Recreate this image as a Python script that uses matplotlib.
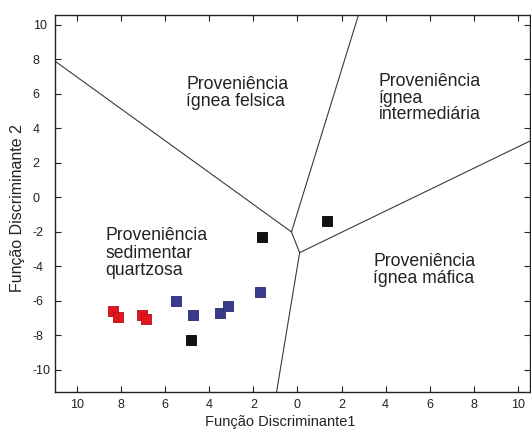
import matplotlib
matplotlib.use("Agg")
import matplotlib.pyplot as plt
from matplotlib.ticker import FuncFormatter

plt.rcParams['font.family'] = ['Liberation Sans', 'DejaVu Sans']

# boundary lines of the discriminant diagram (x, y)
line_felsic_sed = ([-11.0, -0.27], [7.9, -2.0])
line_felsic_int = ([-0.27, 2.77], [-2.0, 10.58])
line_center = ([-0.27, 0.1], [-2.0, -3.2])
line_int_maf = ([0.1, 10.6], [-3.2, 3.3])
line_sed_maf = ([0.1, -0.95], [-3.2, -11.3])

# samples
red_x = [-8.36, -8.14, -7.05, -6.86]
red_y = [-6.6, -6.94, -6.82, -7.05]
blue_x = [-5.5, -4.73, -3.5, -3.14, -1.68]
blue_y = [-6.0, -6.82, -6.7, -6.3, -5.5]
black_x = [-4.82, -1.6, 1.36]
black_y = [-8.27, -2.3, -1.39]

fig = plt.figure(figsize=(5.31, 4.29), dpi=100)
ax = fig.add_axes([0.1036, 0.0862, 0.894, 0.879])

for lx, ly in [line_felsic_sed, line_felsic_int, line_center, line_int_maf, line_sed_maf]:
    ax.plot(lx, ly, color='#3a3a3a', lw=0.8)

ax.scatter(red_x, red_y, marker='s', s=55, color='#e3151e', edgecolors='#b01018', lw=0.6, zorder=3)
ax.scatter(blue_x, blue_y, marker='s', s=55, color='#3a3a8e', edgecolors='#2a2a6a', lw=0.6, zorder=3)
ax.scatter(black_x, black_y, marker='s', s=55, color='#111111', edgecolors='#000000', lw=0.6, zorder=3)

fs = 12.7
tc = '#222222'
ax.text(-5.05, 7.05, 'Proveniência\nígnea felsica', fontsize=fs, color=tc, ha='left', va='top', linespacing=1.02)
ax.text(3.68, 7.2, 'Proveniência\nígnea\nintermediária', fontsize=fs, color=tc, ha='left', va='top', linespacing=0.95)
ax.text(-8.73, -1.73, 'Proveniência\nsedimentar\nquartzosa', fontsize=fs, color=tc, ha='left', va='top', linespacing=1.02)
ax.text(3.45, -3.2, 'Proveniência\nígnea máfica', fontsize=fs, color=tc, ha='left', va='top', linespacing=1.02)

ax.set_xlim(-11.0, 10.54)
ax.set_ylim(-11.28, 10.58)
ax.set_xticks(range(-10, 11, 2))
ax.set_yticks(range(-10, 11, 2))
ax.xaxis.set_major_formatter(FuncFormatter(lambda v, p: '%d' % abs(v)))
ax.yaxis.set_major_formatter(FuncFormatter(lambda v, p: '%d' % v))
ax.tick_params(direction='in', top=True, right=True, labelsize=9, colors='#222222', length=4)
ax.tick_params(axis='x', pad=5)
ax.tick_params(axis='y', pad=16)
for lab in ax.get_yticklabels():
    lab.set_horizontalalignment('left')

ax.set_xlabel('Função Discriminante1', fontsize=10.5, color=tc, va='center')
ax.set_ylabel('Função Discriminante 2', fontsize=11.5, color=tc, va='center')
ax.xaxis.set_label_coords(0.474, -0.08)
ax.yaxis.set_label_coords(-0.078, 0.488)
for sp in ax.spines.values():
    sp.set_linewidth(1.0)
    sp.set_color('#222222')

fig.savefig('out.png', dpi=100)
